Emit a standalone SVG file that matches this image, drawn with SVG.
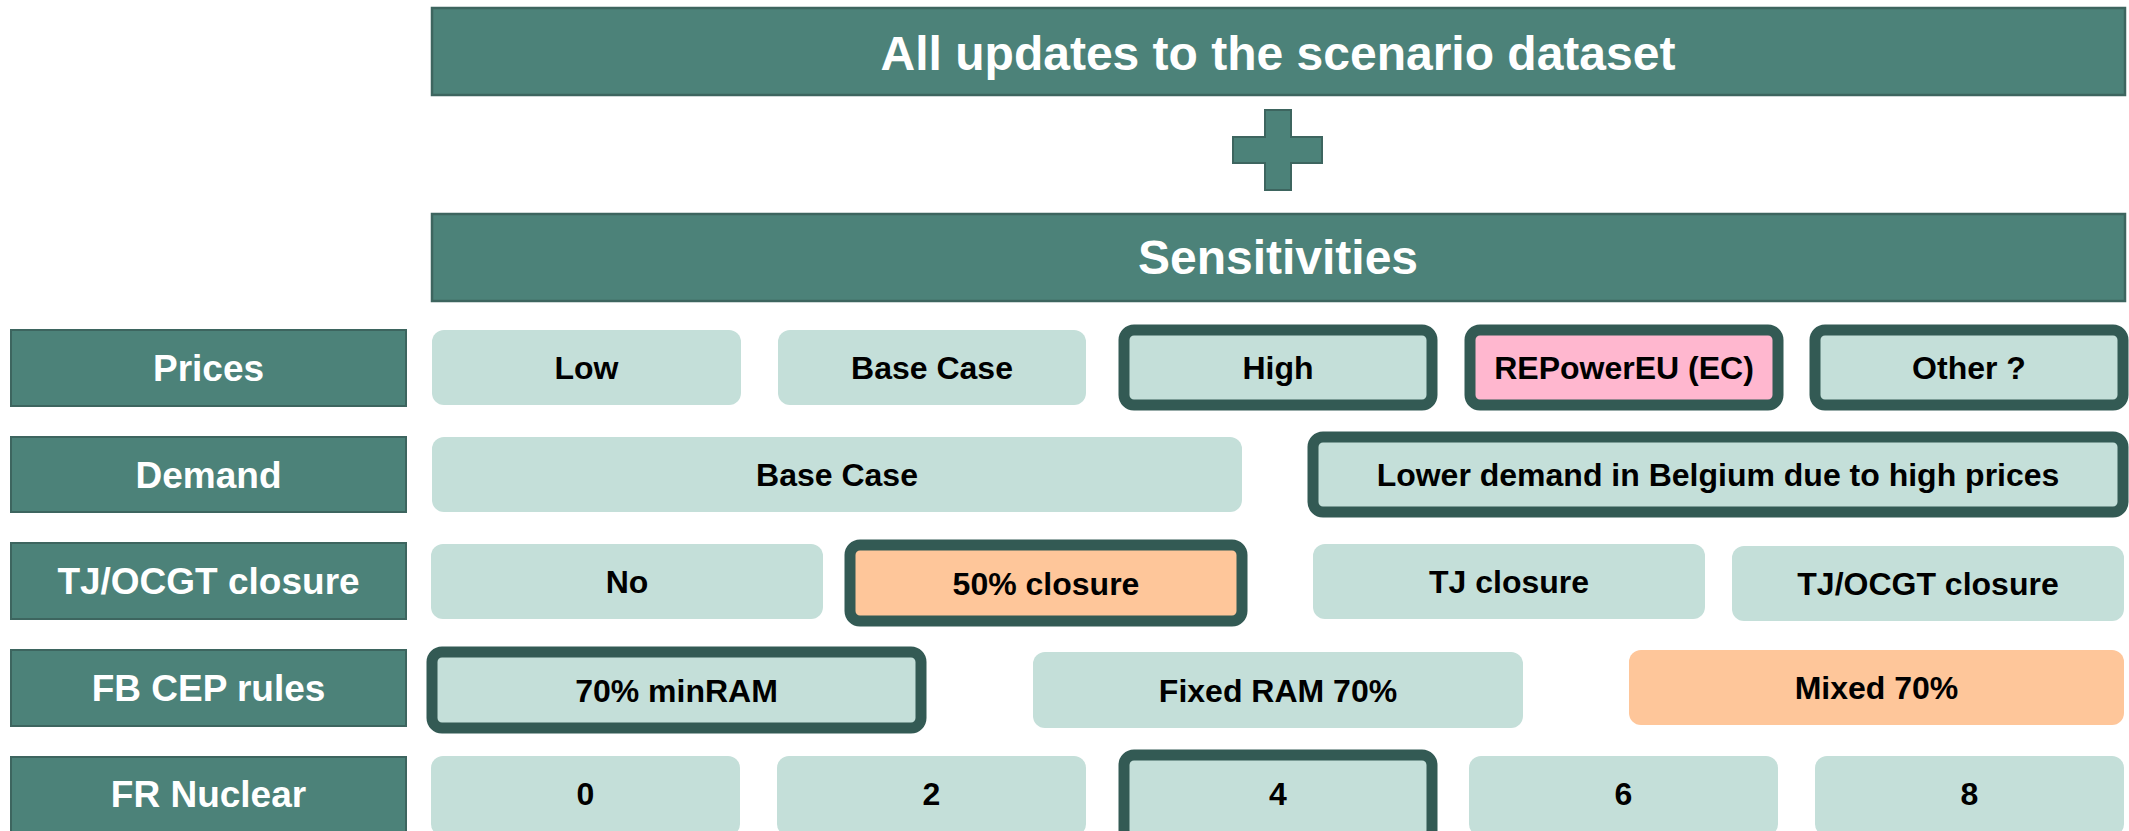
<svg xmlns="http://www.w3.org/2000/svg" width="2129" height="831" viewBox="0 0 2129 831">
<style>
.hdr{fill:#4c8279;stroke:#3d655f;stroke-width:2.5}
.lbl{fill:#4c8279;stroke:#3d655f;stroke-width:2}
.opt{fill:#c4dfd9;stroke:none}
.hl{stroke:#335a54;stroke-width:11}
.pink{fill:#ffb7cf}
.orange{fill:#fec69a}
.th{font-family:"Liberation Sans",Arial,sans-serif;font-weight:bold;font-size:48px;fill:#ffffff;text-anchor:middle}
.tl{font-family:"Liberation Sans",Arial,sans-serif;font-weight:bold;font-size:37px;fill:#ffffff;text-anchor:middle}
.to{font-family:"Liberation Sans",Arial,sans-serif;font-weight:bold;font-size:32px;fill:#000000;text-anchor:middle}
</style>
<rect width="2129" height="831" fill="#ffffff"/>
<g id="header">
<rect class="hdr" x="432" y="8" width="1693" height="87"/>
<text class="th" x="1278" y="70">All updates to the scenario dataset</text>
</g>
<g id="plus">
<path d="M1265,110 H1291 V137 H1322 V163 H1291 V190 H1265 V163 H1233 V137 H1265 Z" fill="#4c8279" stroke="#3d655f" stroke-width="2"/>
</g>
<g id="sensitivities">
<rect class="hdr" x="432" y="214" width="1693" height="87"/>
<text class="th" x="1278" y="274">Sensitivities</text>
</g>
<g id="label-prices"><rect class="lbl" x="11" y="330" width="395" height="76"/><text class="tl" x="208.5" y="381">Prices</text></g>
<g id="label-demand"><rect class="lbl" x="11" y="437" width="395" height="75"/><text class="tl" x="208.5" y="487.5">Demand</text></g>
<g id="label-tjocgt"><rect class="lbl" x="11" y="543" width="395" height="76"/><text class="tl" x="208.5" y="594">TJ/OCGT closure</text></g>
<g id="label-fbcep"><rect class="lbl" x="11" y="650" width="395" height="76"/><text class="tl" x="208.5" y="701">FB CEP rules</text></g>
<g id="label-frnuclear"><rect class="lbl" x="11" y="757" width="395" height="80"/><text class="tl" x="208.5" y="807">FR Nuclear</text></g>

<g id="prices-low"><rect class="opt" x="432" y="330" width="309" height="75" rx="12"/><text class="to" x="586.5" y="379">Low</text></g>
<g id="prices-base"><rect class="opt" x="778" y="330" width="308" height="75" rx="12"/><text class="to" x="932" y="379">Base Case</text></g>
<g id="prices-high"><rect class="opt hl" x="1124" y="330" width="308" height="75" rx="10"/><text class="to" x="1278" y="379">High</text></g>
<g id="prices-repower"><rect class="opt hl pink" x="1470" y="330" width="308" height="75" rx="10"/><text class="to" x="1624" y="379">REPowerEU (EC)</text></g>
<g id="prices-other"><rect class="opt hl" x="1815" y="330" width="308" height="75" rx="10"/><text class="to" x="1969" y="379">Other ?</text></g>

<g id="demand-base"><rect class="opt" x="432" y="437" width="810" height="75" rx="12"/><text class="to" x="837" y="486">Base Case</text></g>
<g id="demand-lower"><rect class="opt hl" x="1313" y="437" width="810" height="75" rx="10"/><text class="to" x="1718" y="486">Lower demand in Belgium due to high prices</text></g>

<g id="tj-no"><rect class="opt" x="431" y="544" width="392" height="75" rx="12"/><text class="to" x="627" y="593">No</text></g>
<g id="tj-50"><rect class="opt hl orange" x="850" y="545" width="392" height="76" rx="10"/><text class="to" x="1046" y="594.5">50% closure</text></g>
<g id="tj-tj"><rect class="opt" x="1313" y="544" width="392" height="75" rx="12"/><text class="to" x="1509" y="593">TJ closure</text></g>
<g id="tj-tjocgt"><rect class="opt" x="1732" y="546" width="392" height="75" rx="12"/><text class="to" x="1928" y="595">TJ/OCGT closure</text></g>

<g id="fb-minram"><rect class="opt hl" x="432" y="652" width="489" height="76" rx="10"/><text class="to" x="676.5" y="701.5">70% minRAM</text></g>
<g id="fb-fixed"><rect class="opt" x="1033" y="652" width="490" height="76" rx="12"/><text class="to" x="1278" y="701.5">Fixed RAM 70%</text></g>
<g id="fb-mixed"><rect class="opt orange" x="1629" y="650" width="495" height="75" rx="12"/><text class="to" x="1876.5" y="699">Mixed 70%</text></g>

<g id="fr-0"><rect class="opt" x="431" y="756" width="309" height="80" rx="12"/><text class="to" x="585.5" y="805">0</text></g>
<g id="fr-2"><rect class="opt" x="777" y="756" width="309" height="80" rx="12"/><text class="to" x="931.5" y="805">2</text></g>
<g id="fr-4"><rect class="opt hl" x="1124" y="755" width="308" height="85" rx="10"/><text class="to" x="1278" y="805">4</text></g>
<g id="fr-6"><rect class="opt" x="1469" y="756" width="309" height="80" rx="12"/><text class="to" x="1623.5" y="805">6</text></g>
<g id="fr-8"><rect class="opt" x="1815" y="756" width="309" height="80" rx="12"/><text class="to" x="1969.5" y="805">8</text></g>
<g id="connectors"></g>
</svg>
